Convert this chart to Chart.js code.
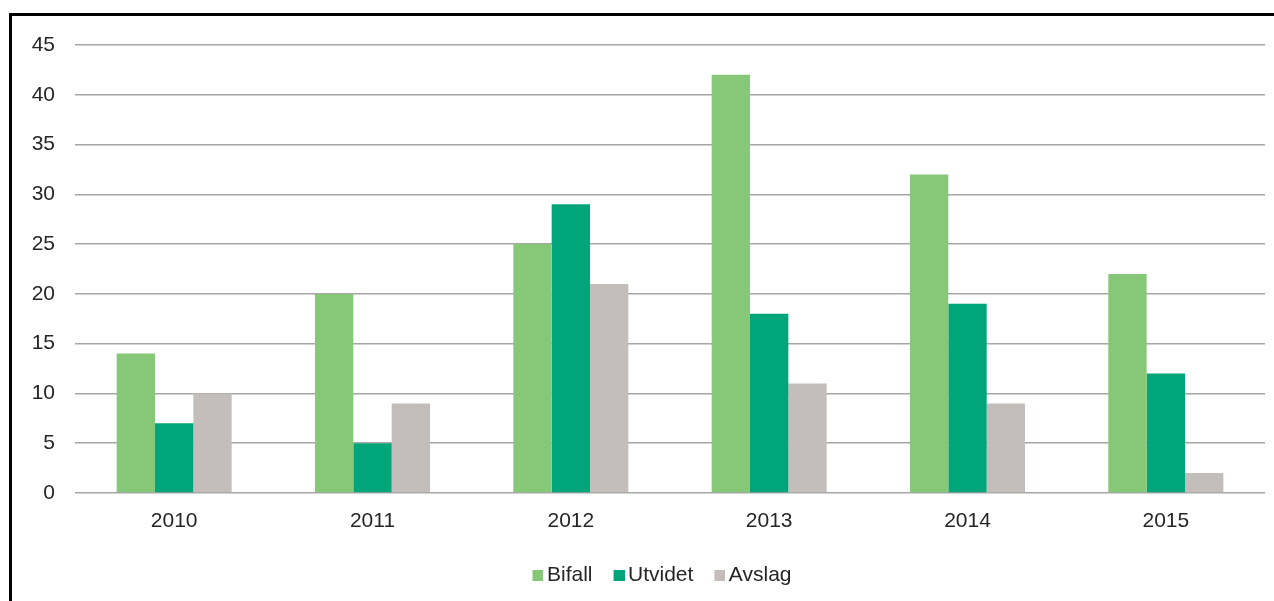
<!DOCTYPE html>
<html>
<head>
<meta charset="utf-8">
<script src="https://cdn.jsdelivr.net/npm/chart.js@4/dist/chart.umd.min.js"></script>
<style>
  html, body { margin: 0; padding: 0; background: #fff; }
  #wrap { position: relative; width: 1274px; height: 601px; overflow: hidden; }
  #frame { position: absolute; left: 9px; top: 13px; right: -5px; bottom: -5px;
           border-top: 3px solid #000; border-left: 3px solid #000; pointer-events: none; }
  canvas { position: absolute; left: 0; top: 0; }
</style>
</head>
<body>
<div id="wrap">
  <canvas id="c" width="1274" height="601"></canvas>
  <div id="frame"></div>
</div>
<script>
const years = ['2010', '2011', '2012', '2013', '2014', '2015'];
const bifall = [14, 20, 25, 42, 32, 22];
const utvidet = [7, 5, 29, 18, 19, 12];
const avslag = [10, 9, 21, 11, 9, 2];
const seriesNames = ['Bifall', 'Utvidet', 'Avslag'];
const seriesColors = ['#87C878', '#00A57A', '#C3BEBB'];

// Legend swatch: square sits at the right of a transparent strip,
// so the gap between swatch and label stays narrow.
function swatch(color) {
  const c = document.createElement('canvas');
  c.width = 18; c.height = 11;
  const g = c.getContext('2d');
  g.fillStyle = color;
  g.fillRect(7, 0, 11, 11);
  return c;
}
const swatches = seriesColors.map(swatch);

const font = { family: "'Liberation Sans', Arial, sans-serif", size: 21 };
const textColor = '#262626';

// Place the legend row under the plot area rather than the whole canvas.
const legendShift = {
  id: 'legendShift',
  afterLayout(chart) {
    const lg = chart.legend;
    if (!lg) return;
    const dx = (chart.chartArea.left + chart.chartArea.right) / 2 - (lg.left + lg.right) / 2 - 8;
    lg.left += dx;
    lg.right += dx;
  }
};

new Chart(document.getElementById('c'), {
  type: 'bar',
  data: {
    labels: years,
    datasets: [
      { label: seriesNames[0], data: bifall, backgroundColor: seriesColors[0] },
      { label: seriesNames[1], data: utvidet, backgroundColor: seriesColors[1] },
      { label: seriesNames[2], data: avslag, backgroundColor: seriesColors[2] }
    ]
  },
  plugins: [legendShift],
  options: {
    responsive: false,
    animation: false,
    events: [],
    layout: { padding: { left: 0, right: 9, top: 45, bottom: 5.5 } },
    datasets: { bar: { barPercentage: 1, categoryPercentage: 0.58, borderWidth: 0 } },
    scales: {
      x: {
        grid: { display: false },
        border: { display: false },
        ticks: { font, color: textColor, padding: 8 },
        afterFit(s) { s.height = 50.5; }
      },
      y: {
        min: 0, max: 45,
        grid: { color: '#A6A6A6', lineWidth: 1.5, drawTicks: false },
        border: { display: false },
        ticks: { stepSize: 5, font, color: textColor, padding: 20 },
        afterFit(s) { s.width = 75; }
      }
    },
    plugins: {
      tooltip: { enabled: false },
      legend: {
        position: 'bottom',
        labels: {
          font, color: textColor, padding: 21,
          usePointStyle: true, pointStyleWidth: 4,
          generateLabels(chart) {
            const items = Chart.defaults.plugins.legend.labels.generateLabels(chart);
            items.forEach((it, i) => { it.pointStyle = swatches[i]; });
            return items;
          }
        }
      }
    }
  }
});
</script>
</body>
</html>
